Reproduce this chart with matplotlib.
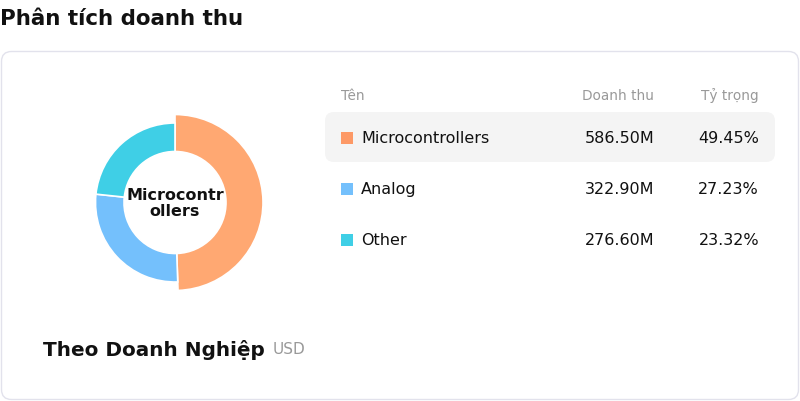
import matplotlib.pyplot as plt
from matplotlib.patches import FancyBboxPatch, Rectangle

# data
names = ['Microcontrollers', 'Analog', 'Other']
revenue = [586.50, 322.90, 276.60]  # triệu USD
share = [49.45, 27.23, 23.32]
wedge_colors = ['#FFA872', '#74C0FC', '#3FCFE6']
square_colors = ['#FD9966', '#74C0FC', '#3FCFE6']
title = 'Phân tích doanh thu'
subtitle = 'Theo Doanh Nghiệp'
unit = 'USD'

plt.rcParams['font.family'] = ['DejaVu Sans']

fig = plt.figure(figsize=(8, 4.02), dpi=100)

# background axes in pixel coords
bg = fig.add_axes([0, 0, 1, 1])
bg.set_xlim(0, 800)
bg.set_ylim(402, 0)
bg.axis('off')

bg.text(0, 25, title, fontsize=15.4, fontweight='bold', color='#111111', va='baseline')

card = FancyBboxPatch((1.5, 52.5), 797, 348, boxstyle='round,pad=0,rounding_size=10',
                      fc='white', ec='#e2e2ec', lw=1)
bg.add_patch(card)

# table header
bg.text(341, 96, 'Tên', fontsize=9.8, color='#999999', va='center')
bg.text(654, 96, 'Doanh thu', fontsize=9.8, color='#999999', va='center', ha='right')
bg.text(759, 96, 'Tỷ trọng', fontsize=9.8, color='#999999', va='center', ha='right')

# highlighted first row
hl = FancyBboxPatch((325, 113), 450, 50, boxstyle='round,pad=0,rounding_size=9',
                    fc='#f4f4f4', ec='none')
bg.add_patch(hl)

row_y = [139, 190, 241]
for i, name in enumerate(names):
    y = row_y[i]
    bg.add_patch(Rectangle((341, y - 6.5), 12, 12, fc=square_colors[i], ec='none'))
    bg.text(361, y, name, fontsize=11.5, color='#111111', va='center')
    bg.text(654, y, f'{revenue[i]:.2f}M', fontsize=11.5, color='#111111', va='center', ha='right')
    bg.text(759, y, f'{share[i]:.2f}%', fontsize=11.5, color='#111111', va='center', ha='right')

bg.text(43, 350, subtitle, fontsize=14.4, fontweight='bold', color='#111111', va='center')
bg.text(273, 350, unit, fontsize=11, color='#999999', va='center')

# donut
ax = fig.add_axes([75 / 800, 98.5 / 402, 200 / 800, 200 / 402])
wedges, _ = ax.pie(revenue, radius=79.5, startangle=90, counterclock=False,
                   colors=wedge_colors,
                   wedgeprops=dict(width=28.5, edgecolor='white', linewidth=1.2))
# phần được chọn nổi ra ngoài
wedges[0].set_radius(88)
wedges[0].set_width(37)
ax.set_xlim(-100, 100)
ax.set_ylim(-100, 100)
ax.set_aspect('equal')
ax.axis('off')

ax.text(0, 0, 'Microcontr\nollers', fontsize=11.5, fontweight='bold', ha='center', va='center',
        linespacing=1.05, color='#111111')

fig.savefig('out.png', dpi=100)
